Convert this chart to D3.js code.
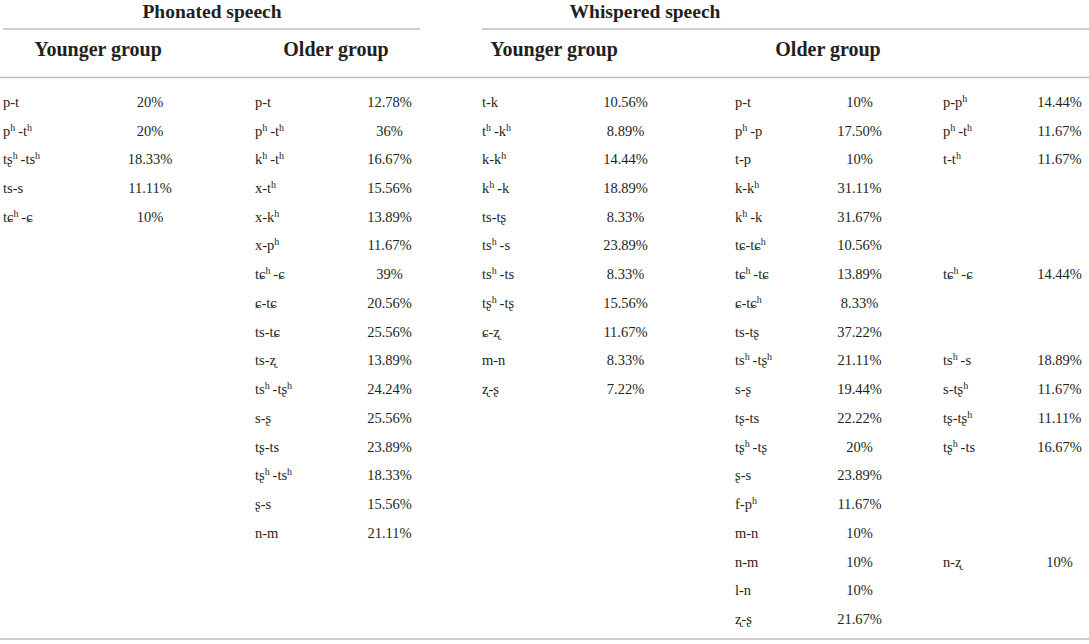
<!DOCTYPE html>
<html>
<head>
<meta charset="utf-8">
<script src="https://cdn.jsdelivr.net/npm/d3@7"></script>
<style>
  body { margin: 0; background: #fff; }
  text { font-family: "Liberation Serif", "DejaVu Serif", serif; fill: #231f20; }
</style>
</head>
<body>
<div id="table"></div>
<script>
// data: one list per column group (null = empty cell)
const phonYoungLabels = ["p-t", "pʰ-tʰ", "tʂʰ-tsʰ", "ts-s", "tɕʰ-ɕ"]
const phonYoungValues = ["20%", "20%", "18.33%", "11.11%", "10%"]

const phonOldLabels = ["p-t", "pʰ-tʰ", "kʰ-tʰ", "x-tʰ", "x-kʰ", "x-pʰ", "tɕʰ-ɕ", "ɕ-tɕ",
  "ts-tɕ", "ts-ʐ", "tsʰ-tʂʰ", "s-ʂ", "tʂ-ts", "tʂʰ-tsʰ", "ʂ-s", "n-m"]
const phonOldValues = ["12.78%", "36%", "16.67%", "15.56%", "13.89%", "11.67%", "39%", "20.56%",
  "25.56%", "13.89%", "24.24%", "25.56%", "23.89%", "18.33%", "15.56%", "21.11%"]

const whispYoungLabels = ["t-k", "tʰ-kʰ", "k-kʰ", "kʰ-k", "ts-tʂ", "tsʰ-s", "tsʰ-ts", "tʂʰ-tʂ",
  "ɕ-ʐ", "m-n", "ʐ-ʂ"]
const whispYoungValues = ["10.56%", "8.89%", "14.44%", "18.89%", "8.33%", "23.89%", "8.33%", "15.56%",
  "11.67%", "8.33%", "7.22%"]

const whispOld1Labels = ["p-t", "pʰ-p", "t-p", "k-kʰ", "kʰ-k", "tɕ-tɕʰ", "tɕʰ-tɕ", "ɕ-tɕʰ", "ts-tʂ",
  "tsʰ-tʂʰ", "s-ʂ", "tʂ-ts", "tʂʰ-tʂ", "ʂ-s", "f-pʰ", "m-n", "n-m", "l-n", "ʐ-ʂ"]
const whispOld1Values = ["10%", "17.50%", "10%", "31.11%", "31.67%", "10.56%", "13.89%", "8.33%", "37.22%",
  "21.11%", "19.44%", "22.22%", "20%", "23.89%", "11.67%", "10%", "10%", "10%", "21.67%"]

const whispOld2Labels = ["p-pʰ", "pʰ-tʰ", "t-tʰ", null, null, null, "tɕʰ-ɕ", null, null,
  "tsʰ-s", "s-tʂʰ", "tʂ-tʂʰ", "tʂʰ-ts", null, null, null, "n-ʐ", null, null]
const whispOld2Values = ["14.44%", "11.67%", "11.67%", null, null, null, "14.44%", null, null,
  "18.89%", "11.67%", "11.11%", "16.67%", null, null, null, "10%", null, null]

const speechHeaders = ["Phonated speech", "Whispered speech"]
const groupHeaders = ["Younger group", "Older group", "Younger group", "Older group"]

// writes a label, turning each ʰ into a raised small h
function writeLabel(sel) {
  sel.each(function(d) {
    const t = d3.select(this)
    const parts = d.label.split("ʰ")
    parts.forEach((p, k) => {
      if (k > 0) {
        t.append("tspan")
          .attr("dy", -5)
          .style("font-size", "10px")
          .text("h")
        t.append("tspan")
          .attr("dy", 5)
          .text(p.startsWith("-") ? "\u2009" + p : p)
      } else {
        t.append("tspan").text(p)
      }
    })
  })
}

function drawTable() {
  const width = 1089
  const height = 644

  const columns = [
    { labels: phonYoungLabels, values: phonYoungValues, lx: 3, vx: 150 },
    { labels: phonOldLabels, values: phonOldValues, lx: 255, vx: 389.5 },
    { labels: whispYoungLabels, values: whispYoungValues, lx: 482, vx: 625.5 },
    { labels: whispOld1Labels, values: whispOld1Values, lx: 735, vx: 859.5 },
    { labels: whispOld2Labels, values: whispOld2Values, lx: 943, vx: 1059.5 },
  ]

  const svg = d3.select("#table")
    .append("svg")
      .attr("width", width)
      .attr("height", height)

  // row positions
  const nRows = d3.max(columns, c => c.labels.length)
  const yScale = d3.scaleLinear()
    .domain([0, nRows - 1])
    .range([101.7, 619])

  // header rows
  const speechX = [212, 645]
  svg.selectAll(".speech")
    .data(speechHeaders)
    .join("text")
      .attr("x", (d, i) => speechX[i])
      .attr("y", 11)
      .attr("dy", "0.35em")
      .attr("text-anchor", "middle")
      .style("font-size", "19.5px")
      .style("font-weight", "bold")
      .text(d => d)

  const groupX = [98, 336, 554, 828]
  svg.selectAll(".group")
    .data(groupHeaders)
    .join("text")
      .attr("x", (d, i) => groupX[i])
      .attr("y", 49)
      .attr("dy", "0.35em")
      .attr("text-anchor", "middle")
      .style("font-size", "20px")
      .style("font-weight", "bold")
      .text(d => d)

  // rules
  const rules = [
    [3, 420, 29], [482, width, 29],
    [0, width, 77.5], [0, width, 639]
  ]
  svg.selectAll("line")
    .data(rules)
    .join("line")
      .attr("x1", d => d[0])
      .attr("x2", d => d[1])
      .attr("y1", d => d[2])
      .attr("y2", d => d[2])
      .attr("stroke", "#bdbdbd")
      .attr("stroke-width", 1.5)

  // body cells
  columns.forEach(col => {
    const g = svg.append("g")
    const rows = col.labels
      .map((l, i) => ({ label: l, value: col.values[i], i }))
      .filter(d => d.label !== null)

    g.selectAll(".lab")
      .data(rows)
      .join("text")
        .attr("x", col.lx)
        .attr("y", d => yScale(d.i))
        .attr("dy", "0.35em")
        .style("font-size", "14.5px")
        .call(writeLabel)

    g.selectAll(".val")
      .data(rows)
      .join("text")
        .attr("x", col.vx)
        .attr("y", d => yScale(d.i))
        .attr("dy", "0.35em")
        .attr("text-anchor", "middle")
        .style("font-size", "14.5px")
        .text(d => d.value)
  })
}
drawTable()
</script>
</body>
</html>
